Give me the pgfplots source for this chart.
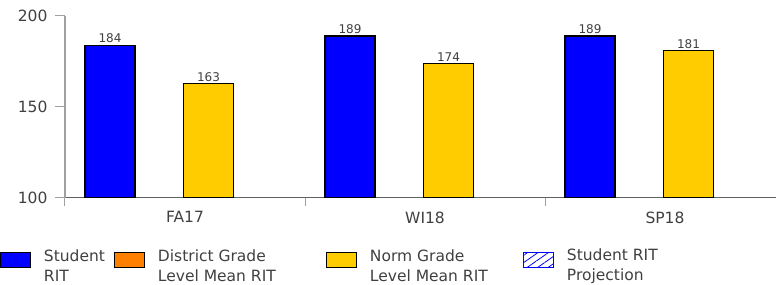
\documentclass[border=0pt]{standalone}
\usepackage{pgfplots}
\pgfplotsset{compat=1.18}
\usepackage{fontspec}
\setmainfont{DejaVu Sans}
\usetikzlibrary{patterns,patterns.meta}
\definecolor{ritblue}{HTML}{0000FF}
\definecolor{distorange}{HTML}{FF7F00}
\definecolor{normyellow}{HTML}{FFCC00}
\definecolor{axgray}{HTML}{A0A0A0}
\definecolor{xaxgray}{HTML}{606060}
\definecolor{txtgray}{HTML}{404040}
\begin{document}
\begin{tikzpicture}
\begin{axis}[
  /pgf/number format/assume math mode=true,
  scale only axis, width=711pt, height=182pt,
  xmin=-0.5, xmax=2.4625, ymin=100, ymax=200,
  axis x line*=bottom, axis y line*=left,
  x axis line style={-, draw=xaxgray, line width=1pt},
  y axis line style={-, draw=axgray, line width=1.5pt},
  ytick={100,150,200},
  xtick={0,1,2}, xticklabels={FA17,WI18,SP18},
  minor xtick={-0.5,0.5,1.5},
  tick align=outside,
  major tick length=10pt,
  minor tick length=8pt,
  major x tick style={draw=none},
  minor x tick style={draw=axgray, line width=1pt},
  major y tick style={draw=axgray, line width=1pt},
  ticklabel style={font=\fontsize{15.5}{18}\selectfont, text=txtgray},
  yticklabel style={xshift=-4pt},
  ybar, bar width=0.2083,
  every axis plot/.append style={draw=black, line width=1.2pt},
  nodes near coords,
  nodes near coords style={font=\fontsize{12}{12}\selectfont, text=txtgray, inner sep=1.5pt},
  legend columns=4,
  legend image code/.code={\draw[#1, line width=1pt] (0pt,-7.5pt) rectangle (30pt,7.5pt);},
  legend style={at={(0,0)}, anchor=north west, xshift=-65pt, yshift=-51pt,
    draw=none, fill=none, inner sep=0pt, outer sep=0pt,
    font=\fontsize{15.5}{20}\selectfont, text=txtgray,
    /tikz/every odd column/.style={column sep=13pt},
    nodes={inner sep=0pt}},
  legend cell align=left,
]
\addplot[fill=ritblue, bar shift=-0.3125] coordinates {(0,184) (1,189) (2,189)};
\addlegendentry{\parbox[c]{70pt}{Student\\RIT}}
\addlegendimage{fill=distorange, draw=black}
\addlegendentry{\parbox[c]{168pt}{District Grade\\Level Mean RIT}}
\addplot[fill=normyellow, bar shift=0.098] coordinates {(0,163) (1,174) (2,181)};
\addlegendentry{\parbox[c]{153pt}{Norm Grade\\Level Mean RIT}}
\addlegendimage{draw=ritblue, pattern={Lines[angle=35, distance=6pt, line width=0.8pt]}, pattern color=ritblue}
\addlegendentry{\parbox[c]{120pt}{Student RIT\\Projection}}
\end{axis}
\pgfresetboundingbox
\path[use as bounding box] ([shift={(-65pt,-87pt)}]current axis.south west) rectangle ([shift={(0pt,16pt)}]current axis.north east);
\end{tikzpicture}
\end{document}
